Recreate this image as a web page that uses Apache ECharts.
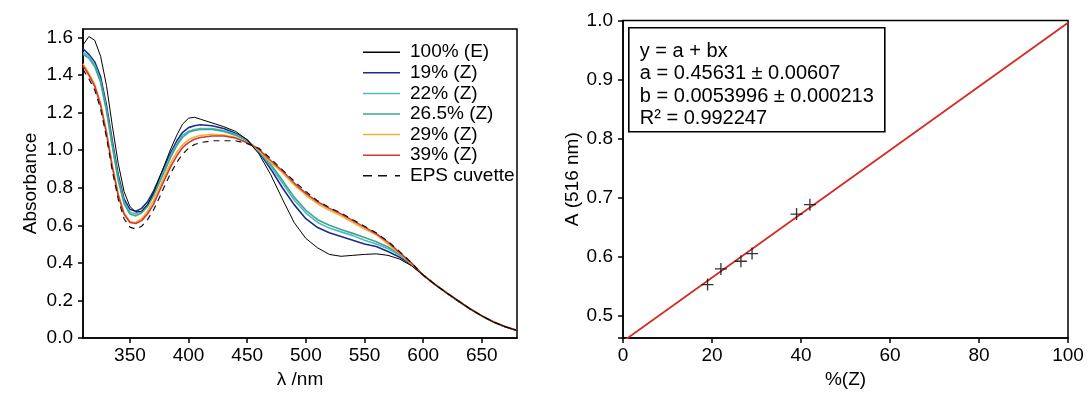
<!DOCTYPE html>
<html><head><meta charset="utf-8">
<script src="https://cdn.jsdelivr.net/npm/echarts@6/dist/echarts.min.js"></script>
<style>html,body{margin:0;padding:0;background:#fff}#c{width:1088px;height:394px}</style>
</head><body><div id="c"></div>
<script>
// ---------- data (left: UV-vis spectra) ----------
const wavelengths = [310,315,320,325,330,335,340,345,350,355,360,365,370,375,380,385,390,395,400,405,410,
  420,430,440,450,460,470,480,490,500,510,520,530,540,550,560,570,580,590,600,610,620,630,640,650,660,670,680];
const absE100 = [1.56,1.605,1.585,1.50,1.345,1.13,0.93,0.78,0.70,0.67,0.675,0.71,0.77,0.85,0.93,1.01,1.08,1.14,1.17,1.175,1.165,
  1.145,1.125,1.10,1.055,0.98,0.87,0.74,0.615,0.53,0.48,0.445,0.435,0.44,0.445,0.448,0.44,0.42,0.385,0.335,0.285,0.24,0.197,0.155,0.118,0.085,0.06,0.04];
const absZ19 = [1.54,1.51,1.47,1.39,1.24,1.05,0.87,0.74,0.685,0.675,0.69,0.725,0.78,0.85,0.92,0.99,1.05,1.095,1.12,1.13,1.135,
  1.13,1.115,1.09,1.055,0.99,0.90,0.80,0.71,0.635,0.588,0.56,0.54,0.52,0.50,0.487,0.46,0.43,0.39,0.335,0.285,0.24,0.197,0.155,0.118,0.085,0.06,0.04];
const absZ22 = [1.52,1.50,1.455,1.37,1.22,1.03,0.85,0.725,0.67,0.66,0.675,0.71,0.765,0.835,0.905,0.975,1.035,1.08,1.10,1.11,1.115,
  1.115,1.105,1.085,1.05,0.995,0.915,0.825,0.735,0.665,0.615,0.585,0.565,0.545,0.52,0.50,0.475,0.44,0.395,0.335,0.285,0.24,0.197,0.155,0.118,0.085,0.06,0.04];
const absZ265 = [1.51,1.49,1.445,1.36,1.21,1.02,0.84,0.715,0.66,0.65,0.665,0.70,0.755,0.825,0.895,0.965,1.025,1.07,1.095,1.105,1.11,
  1.11,1.10,1.08,1.05,1.0,0.925,0.84,0.75,0.68,0.63,0.60,0.578,0.557,0.535,0.512,0.485,0.445,0.395,0.335,0.285,0.24,0.197,0.155,0.118,0.085,0.06,0.04];
const absZ29 = [1.46,1.41,1.35,1.25,1.10,0.92,0.77,0.665,0.62,0.615,0.635,0.675,0.73,0.80,0.87,0.935,0.99,1.03,1.055,1.07,1.078,
  1.085,1.08,1.068,1.04,1.0,0.935,0.88,0.815,0.76,0.715,0.68,0.65,0.615,0.58,0.55,0.50,0.45,0.395,0.335,0.285,0.24,0.197,0.155,0.118,0.085,0.06,0.04];
const absZ39 = [1.45,1.40,1.34,1.24,1.09,0.91,0.76,0.66,0.615,0.61,0.625,0.66,0.71,0.78,0.85,0.915,0.97,1.015,1.04,1.058,1.067,
  1.075,1.075,1.065,1.04,1.005,0.945,0.89,0.825,0.77,0.725,0.69,0.66,0.625,0.59,0.555,0.51,0.455,0.40,0.335,0.285,0.24,0.197,0.155,0.118,0.085,0.06,0.04];
const absEPS = [1.43,1.38,1.32,1.22,1.07,0.89,0.74,0.635,0.59,0.58,0.595,0.63,0.68,0.745,0.815,0.88,0.935,0.98,1.01,1.03,1.04,
  1.05,1.05,1.05,1.035,1.01,0.955,0.895,0.835,0.78,0.73,0.695,0.665,0.63,0.595,0.56,0.515,0.46,0.40,0.335,0.285,0.24,0.197,0.155,0.118,0.085,0.06,0.04];
const seriesNames = ['100% (E)','19% (Z)','22% (Z)','26.5% (Z)','29% (Z)','39% (Z)','EPS cuvette'];
const leftXTicks = [350,400,450,500,550,600,650];
const leftYTicks = [0,0.2,0.4,0.6,0.8,1.0,1.2,1.4,1.6];

// ---------- data (right: calibration) ----------
const pctZ = [19,22,26.5,29,39,42];
const a516 = [0.5525,0.579,0.592,0.605,0.672,0.688];
const fitA = 0.45631;
const fitB = 0.0053996;
const fitXs = [0,100];
const rightXTicks = [0,20,40,60,80,100];
const rightYTicks = [0.5,0.6,0.7,0.8,0.9,1.0];
const fitText = ['y = a + bx','a = 0.45631 \u00b1 0.00607','b = 0.0053996 \u00b1 0.000213','R\u00b2 = 0.992247'];

// ---------- chart ----------
const FONT = '"Liberation Sans", Arial, sans-serif';
const chart = echarts.init(document.getElementById('c'), null, {renderer:'canvas'});
const colors = ['#000000','#1f2b8c','#4fb9c4','#3aa88e','#f2b335','#d23a32','#111111'];
const widths = [1,1.6,1.6,1.6,1.6,1.6,1.2];
const spectra = [absE100,absZ19,absZ22,absZ265,absZ29,absZ39,absEPS];
const txt = {color:'#000', fontSize:19, fontFamily:FONT};
const axLine = {show:true, onZero:false, lineStyle:{color:'#000', width:1.5}};
const solidIcon = 'path://M0,0 H37 V1.5 H0 Z';
const dashIcon = 'path://M0,0 H9 V1.5 H0 Z M15,0 H24 V1.5 H15 Z M32,0 H37 V1.5 H32 Z';

const series = spectra.map((vals,i)=>({
  name: seriesNames[i], type:'line', xAxisIndex:0, yAxisIndex:0,
  data: wavelengths.map((w,k)=>[w, vals[k]]),
  symbol:'none', smooth:false, color: colors[i], itemStyle:{color: colors[i]},
  lineStyle:{color: colors[i], width: widths[i], type: i===6 ? [6,5] : 'solid'},
  z: i===0 ? 3 : 2
}));
series.push({
  type:'line', xAxisIndex:1, yAxisIndex:1, symbol:'none',
  data: fitXs.map(x=>[x, fitA + fitB*x]),
  lineStyle:{color:'#d42a26', width:1.8}, color:'#d42a26'
});
series.push({
  type:'scatter', xAxisIndex:1, yAxisIndex:1,
  data: pctZ.map((x,i)=>[x, a516[i]]),
  symbol:'path://M4.45,0 H5.55 V4.45 H10 V5.55 H5.55 V10 H4.45 V5.55 H0 V4.45 H4.45 Z',
  symbolSize:12, itemStyle:{color:'#000'}, z:5
});

chart.setOption({
  animation:false,
  backgroundColor:'#fff',
  grid:[
    {left:83, top:29, width:434, height:309, show:true, borderColor:'#000', borderWidth:1.5},
    {left:623, top:20.5, width:445, height:317.5, show:true, borderColor:'#000', borderWidth:1.5}
  ],
  legend:{
    data: seriesNames.map((n,i)=>({name:n, icon: i===6 ? dashIcon : solidIcon})),
    orient:'vertical', left:358, top:37.7, itemWidth:37, itemHeight:1.5, itemGap:1.6,
    selectedMode:false, textStyle:Object.assign({padding:[0,0,0,5]}, txt)
  },
  xAxis:[
    {gridIndex:0, type:'value', min:310, max:680, axisLine:axLine,
     axisTick:{show:true, length:5, customValues:leftXTicks, lineStyle:{color:'#000', width:1.5}},
     axisLabel:Object.assign({customValues:leftXTicks, margin:8}, txt),
     splitLine:{show:false}, name:'\u03bb /nm', nameLocation:'middle', nameGap:32, nameTextStyle:txt},
    {gridIndex:1, type:'value', min:0, max:100, axisLine:axLine,
     axisTick:{show:true, length:5, customValues:rightXTicks, lineStyle:{color:'#000', width:1.5}},
     axisLabel:Object.assign({customValues:rightXTicks, margin:8}, txt),
     splitLine:{show:false}, name:'%(Z)', nameLocation:'middle', nameGap:32, nameTextStyle:txt}
  ],
  yAxis:[
    {gridIndex:0, type:'value', min:0, max:1.645, axisLine:axLine,
     axisTick:{show:true, length:5, customValues:leftYTicks, lineStyle:{color:'#000', width:1.5}},
     axisLabel:Object.assign({customValues:leftYTicks, margin:10, formatter:v=>v.toFixed(1)}, txt),
     splitLine:{show:false}, name:'Absorbance', nameLocation:'middle', nameGap:43, nameTextStyle:txt},
    {gridIndex:1, type:'value', min:0.462, max:1.0, axisLine:axLine,
     axisTick:{show:true, length:5, customValues:[0.462].concat(rightYTicks), lineStyle:{color:'#000', width:1.5}},
     axisLabel:Object.assign({customValues:rightYTicks, margin:10, formatter:v=>v.toFixed(1)}, txt),
     splitLine:{show:false}, name:'A (516 nm)', nameLocation:'middle', nameGap:41, nameTextStyle:txt}
  ],
  graphic:[{
    type:'group', left:628, top:27, children:[
      {type:'rect', shape:{x:0, y:0, width:256, height:104}, style:{fill:'#fff', stroke:'#000', lineWidth:1.6}},
      {type:'text', x:11, y:12, style:{text: fitText.join('\n'), fill:'#000', font:'20px "Liberation Sans", Arial, sans-serif', lineHeight:22.5, verticalAlign:'top'}}
    ]
  }],
  series: series
});
</script>
</body></html>
